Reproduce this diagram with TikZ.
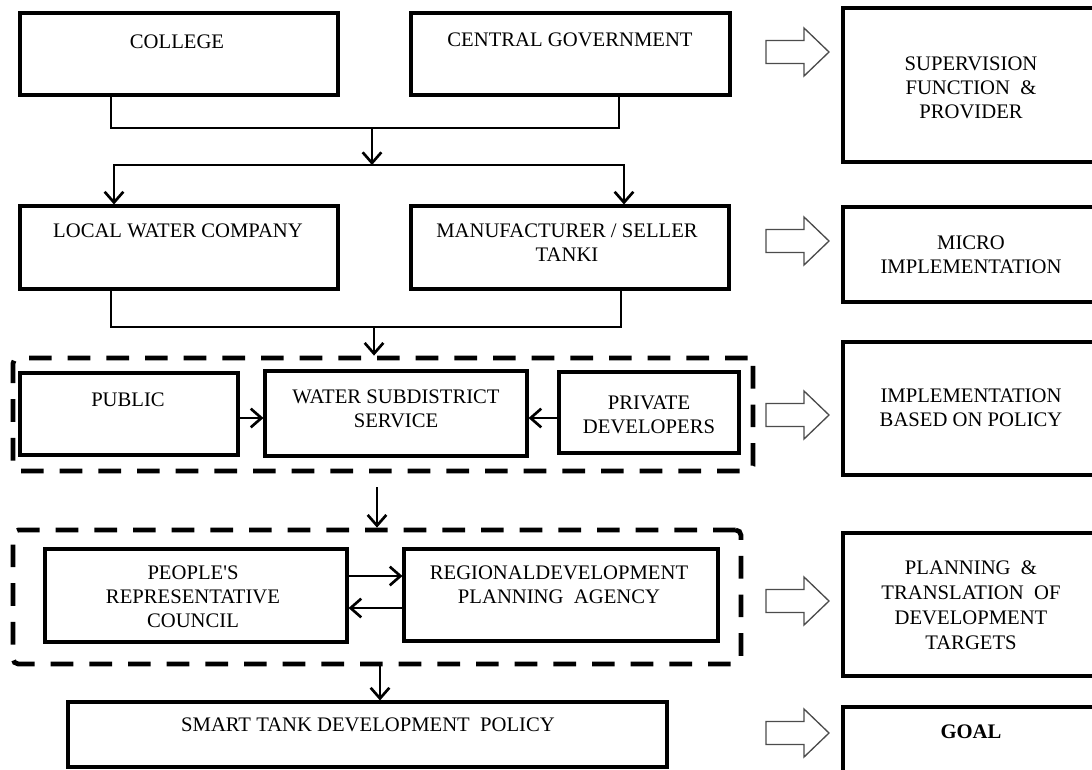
\documentclass[tikz,border=0pt]{standalone}
\usepackage{fontspec}
\setmainfont{Liberation Serif}
\usetikzlibrary{arrows.meta}

% box from corner (x1,y1) to corner (x2,y2): style, name, x1, y1, x2, y2
\newcommand\placebox[6]{%
  \node[#1, minimum width={(#5-#3)*0.75pt}, minimum height={(#6-#4)*0.75pt}]
    (#2) at ({(#3+#5)/2},{(#4+#6)/2}) {};}

\begin{document}
\begin{tikzpicture}[x=0.75pt,y=-0.75pt,
  box/.style={draw, line width=2.3pt, inner sep=0pt},
  dashbox/.style={draw, line width=3.6pt, dash pattern=on 17pt off 12pt,
    rounded corners=4pt, inner sep=0pt},
  txt/.style={font=\fontsize{15.5}{18}\selectfont, align=center, inner sep=0pt},
  link/.style={line width=2pt},
  barb/.tip={Straight Barb[length=8pt,width=14pt,line width=2pt]},
  flow/.style={link, -barb},
  flowboth/.style={link, barb-barb},
  blockarrow/.style={draw=black!70, line width=1pt, fill=white, line join=miter},
  hollow/.pic={\path[blockarrow] (0,-11.5) -- (38,-11.5) -- (38,-24) -- (63,0)
    -- (38,24) -- (38,11.5) -- (0,11.5) -- cycle;}
]
\fill[white] (0,0) rectangle (1092,769);
\useasboundingbox (0,0) rectangle (1092,769);
\clip (0,0) rectangle (1092,769);

% left column: actors
\placebox{box}{college}{20}{13}{338}{95}
\placebox{box}{central}{411}{13}{730}{95}
\placebox{box}{local}{20}{206}{338}{289}
\placebox{box}{maker}{411}{206}{729}{289}
\placebox{dashbox}{servicegroup}{13}{358}{753}{471}
\placebox{box}{public}{20}{373}{238}{455}
\placebox{box}{subdistrict}{265}{371}{527}{456}
\placebox{box}{private}{559}{372}{739}{453}
\placebox{dashbox}{planninggroup}{13}{530}{741}{664}
\placebox{box}{people}{45}{549}{347}{642}
\placebox{box}{regional}{404}{549}{718}{641}
\placebox{box}{policy}{68}{702}{667}{767}

% right column: roles
\placebox{box}{supervision}{843}{8}{1100}{162}
\placebox{box}{micro}{843}{207}{1100}{302}
\placebox{box}{implementation}{843}{342}{1100}{475}
\placebox{box}{planning}{843}{533}{1100}{676}
\placebox{box}{goal}{843}{707}{1100}{800}

% labels
\node[txt] (t-college) at (177,42) {COLLEGE};
\node[txt] (t-central) at (570,40) {CENTRAL GOVERNMENT};
\node[txt] (t-local) at (178,231) {LOCAL WATER COMPANY};
\node[txt] (t-maker) at (567,242.5) {MANUFACTURER / SELLER\\TANKI};
\node[txt] (t-public) at (128,400) {PUBLIC};
\node[txt] (t-subdistrict) at (396,408.5) {WATER SUBDISTRICT\\SERVICE};
\node[txt] (t-private) at (649,414.5) {PRIVATE\\DEVELOPERS};
\node[txt] (t-people) at (193,596.5) {PEOPLE\textquotesingle S\\REPRESENTATIVE\\COUNCIL};
\node[txt] (t-regional) at (559,584.5) {REGIONALDEVELOPMENT\\PLANNING\ \ AGENCY};
\node[txt] (t-policy) at (368,725) {SMART TANK DEVELOPMENT\ \ POLICY};
\node[txt] (t-supervision) at (971,87.5) {SUPERVISION\\FUNCTION\ \ \&\\PROVIDER};
\node[txt] (t-micro) at (971,255) {MICRO\\IMPLEMENTATION};
\node[txt] (t-implementation) at (971,408) {IMPLEMENTATION\\BASED ON POLICY};
\node[txt, font=\fontsize{15.5}{18.75}\selectfont] (t-planning) at (971,605.5)
  {PLANNING\ \ \&\\TRANSLATION\ \ OF\\DEVELOPMENT\\TARGETS};
\node[txt, font=\fontsize{15.5}{18}\selectfont\bfseries] (t-goal) at (971,732) {GOAL};

% junction points
\coordinate (j1) at (111,128);
\coordinate (j2) at (619,128);
\coordinate (jm) at (372,128);
\coordinate (s1) at (114,165);
\coordinate (s2) at (624,165);
\coordinate (sm) at (372,165);
\coordinate (k1) at (111,327);
\coordinate (k2) at (621,327);
\coordinate (km) at (374,327);
\coordinate (h1) at (0,418);
\coordinate (d1) at (377,487);
\coordinate (r1) at (0,576);
\coordinate (r2) at (0,608);
\coordinate (e1) at (380,0);

% connectors
\draw[link] (college.south -| j1) -- (j1) -- (j2) -- (central.south -| j2);
\draw[flow] (jm) -- (sm);
\draw[flowboth] (local.north -| s1) -- (s1) -- (s2) -- (maker.north -| s2);
\draw[link] (local.south -| k1) -- (k1) -- (k2) -- (maker.south -| k2);
\draw[flow] (km) -- (servicegroup.north -| km);
\draw[flow] (public.east |- h1) -- (subdistrict.west |- h1);
\draw[flow] (private.west |- h1) -- (subdistrict.east |- h1);
\draw[flow] (d1) -- (planninggroup.north -| d1);
\draw[flow] (people.east |- r1) -- (regional.west |- r1);
\draw[flow] (regional.west |- r2) -- (people.east |- r2);
\draw[flow] (planninggroup.south -| e1) -- (policy.north -| e1);

% hollow block arrows towards the roles
\pic at (766,52) {hollow};
\pic at (766,241) {hollow};
\pic at (766,415) {hollow};
\pic at (766,601) {hollow};
\pic at (766,733) {hollow};
\end{tikzpicture}
\end{document}
